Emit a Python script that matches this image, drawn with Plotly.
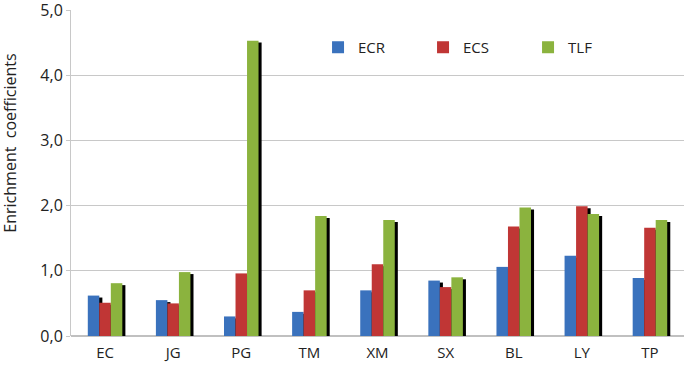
import plotly.graph_objects as go

categories = ["EC", "JG", "PG", "TM", "XM", "SX", "BL", "LY", "TP"]
ecr = [0.62, 0.55, 0.30, 0.37, 0.70, 0.85, 1.06, 1.23, 0.89]
ecs = [0.51, 0.50, 0.96, 0.70, 1.10, 0.75, 1.68, 1.99, 1.66]
tlf = [0.81, 0.98, 4.53, 1.84, 1.78, 0.90, 1.97, 1.87, 1.78]

series = [("ECR", ecr, "#3a72bd"), ("ECS", ecs, "#c03635"), ("TLF", tlf, "#8bb33e")]
y_title = "Enrichment  coefficients"

BAR_W = 0.169
offsets = [-0.2535, -0.0845, 0.0845]
SHADOW_DX = 0.045
SHADOW_DY = 0.03

fig = go.Figure()
# shadows
for (name, vals, col), off in zip(series, offsets):
    fig.add_trace(go.Bar(
        x=categories, y=[v - SHADOW_DY for v in vals], width=BAR_W,
        offset=off + SHADOW_DX, marker=dict(color="#000000", line=dict(width=0)),
        showlegend=False, hoverinfo="skip"))
for (name, vals, col), off in zip(series, offsets):
    fig.add_trace(go.Bar(
        x=categories, y=vals, name=name, width=BAR_W, offset=off,
        marker=dict(color=col, line=dict(width=0))))

fig.update_layout(
    barmode="overlay",
    width=685, height=368,
    margin=dict(l=71, r=1, t=10, b=32),
    paper_bgcolor="white", plot_bgcolor="white",
    separators=",.",
    font=dict(family="Open Sans, Liberation Sans, sans-serif", color="#222222"),
    legend=dict(orientation="h", x=0.403, y=0.885, xanchor="left", yanchor="middle",
                font=dict(size=15), entrywidth=60, entrywidthmode="pixels",
                bgcolor="rgba(0,0,0,0)", itemsizing="constant"),
    xaxis=dict(showgrid=False, showline=False, ticks="", tickfont=dict(size=15),
               range=[-0.5, 8.5], automargin=False, ticklabelstandoff=6),
    yaxis=dict(range=[0, 5], dtick=1, tickformat=".1f", showgrid=True,
               gridcolor="#c8c8c8", gridwidth=1, zeroline=True, zerolinecolor="#c0c0c0",
               showline=True, linecolor="#c8c8c8", ticks="outside", ticklen=4,
               tickcolor="#c8c8c8", tickfont=dict(size=16), automargin=False,
               ticklabeloverflow="allow"),
    annotations=[dict(text=y_title, textangle=-90, xref="paper", yref="paper",
                      x=0, xshift=-61, y=0.59, xanchor="center", yanchor="middle",
                      showarrow=False, font=dict(size=16))],
)

fig.write_html("out.html", config={"displayModeBar": False},
               post_script="document.body.style.margin='0';document.body.style.overflow='hidden';")
